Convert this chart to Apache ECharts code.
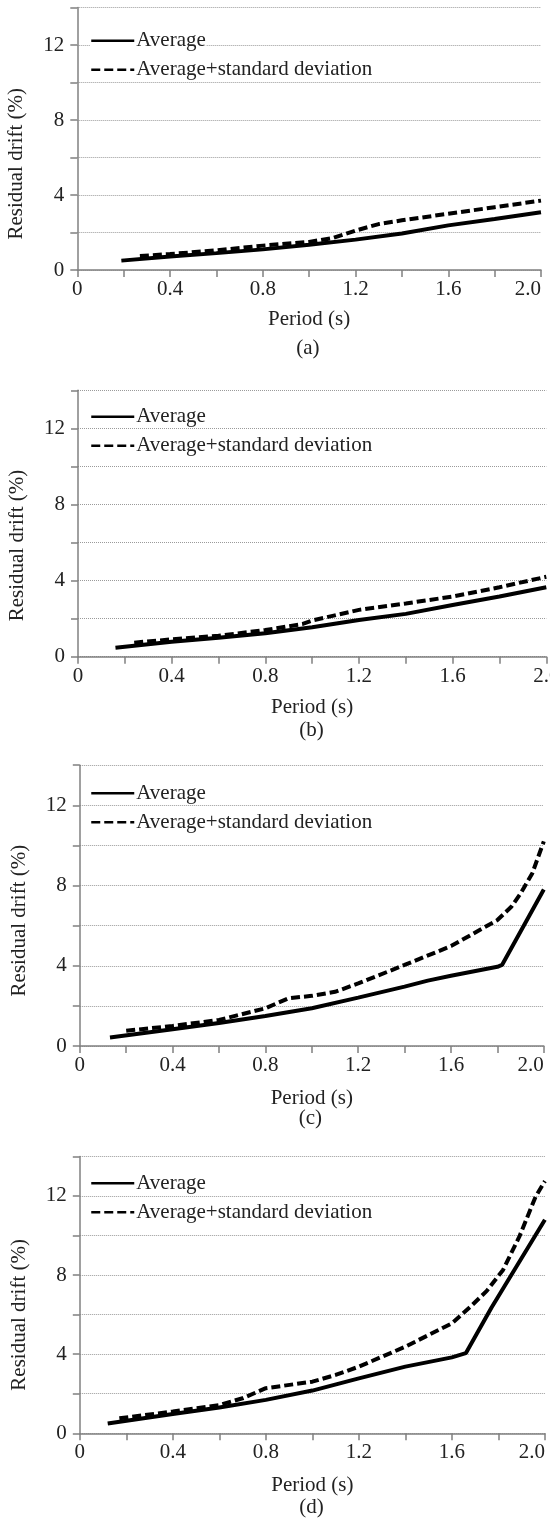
<!DOCTYPE html>
<html>
<head>
<meta charset="utf-8">
<script src="https://cdn.jsdelivr.net/npm/echarts@6/dist/echarts.min.js"></script>
<style>
html,body{margin:0;padding:0;background:#fff;}
#chart{width:550px;height:1519px;}
</style>
</head>
<body>
<div id="chart"></div>
<script>
// ---- Data (Period in s, Residual drift in %) ----
const panelLabels = ['(a)', '(b)', '(c)', '(d)'];
const seriesNames = ['Average', 'Average+standard deviation'];
const xAxisTitle = 'Period (s)';
const yAxisTitle = 'Residual drift (%)';
const xTickLabels = ['0', '0.4', '0.8', '1.2', '1.6', '2.0'];
const yTickLabels = ['0', '4', '8', '12'];

const avgA_x = [0.19, 0.4, 0.6, 0.8, 1.0, 1.2, 1.4, 1.6, 1.8, 2.0];
const avgA_y = [0.5, 0.72, 0.9, 1.1, 1.35, 1.62, 1.95, 2.38, 2.72, 3.08];
const sdA_x = [0.27, 0.4, 0.6, 0.8, 1.0, 1.1, 1.15, 1.2, 1.3, 1.4, 1.6, 1.8, 2.0];
const sdA_y = [0.75, 0.85, 1.05, 1.3, 1.5, 1.7, 1.9, 2.1, 2.45, 2.65, 3.0, 3.35, 3.7];

const avgB_x = [0.16, 0.4, 0.6, 0.8, 1.0, 1.2, 1.4, 1.6, 1.8, 2.0];
const avgB_y = [0.47, 0.79, 1.0, 1.23, 1.55, 1.93, 2.25, 2.72, 3.16, 3.65];
const sdB_x = [0.24, 0.4, 0.6, 0.8, 0.96, 1.0, 1.2, 1.4, 1.6, 1.8, 2.0];
const sdB_y = [0.74, 0.91, 1.1, 1.4, 1.72, 1.9, 2.46, 2.8, 3.16, 3.65, 4.2];

const avgC_x = [0.13, 0.4, 0.6, 0.8, 1.0, 1.2, 1.4, 1.5, 1.6, 1.8, 1.82, 2.0];
const avgC_y = [0.42, 0.83, 1.15, 1.5, 1.88, 2.41, 2.96, 3.26, 3.5, 3.95, 4.04, 7.8];
const sdC_x = [0.2, 0.4, 0.6, 0.8, 0.9, 1.0, 1.1, 1.2, 1.4, 1.6, 1.8, 1.86, 1.9, 1.95, 2.0];
const sdC_y = [0.76, 1.0, 1.3, 1.88, 2.38, 2.5, 2.7, 3.12, 4.04, 4.98, 6.28, 6.94, 7.6, 8.6, 10.2];

const avgD_x = [0.12, 0.4, 0.6, 0.8, 1.0, 1.2, 1.4, 1.6, 1.66, 1.77, 2.0];
const avgD_y = [0.5, 0.98, 1.3, 1.69, 2.16, 2.78, 3.37, 3.84, 4.05, 6.35, 10.8];
const sdD_x = [0.17, 0.4, 0.6, 0.7, 0.8, 1.0, 1.1, 1.2, 1.4, 1.6, 1.68, 1.75, 1.82, 1.89, 1.96, 2.0];
const sdD_y = [0.76, 1.1, 1.43, 1.77, 2.28, 2.61, 2.95, 3.37, 4.38, 5.56, 6.4, 7.2, 8.26, 9.94, 11.96, 12.75];

const avgXs = [avgA_x, avgB_x, avgC_x, avgD_x];
const avgYs = [avgA_y, avgB_y, avgC_y, avgD_y];
const sdXs = [sdA_x, sdB_x, sdC_x, sdD_x];
const sdYs = [sdA_y, sdB_y, sdC_y, sdD_y];

// ---- Layout ----
const grids = [
  {left: 77.3, top: 7.5, width: 463.7, height: 262.5},
  {left: 78, top: 390.3, width: 468.3, height: 266.4},
  {left: 79.8, top: 765.2, width: 464, height: 280.8},
  {left: 79.8, top: 1156.4, width: 465.1, height: 276.9}
];
const xNameGaps = [39, 40, 42, 42];
const yNameShift = [50, 44, 30, 40];
const maxLabelAlign = ['right', 'center', 'right', 'right'];
const captionY = [349, 731, 1119, 1508];
const legendTop = [30.2, 406.2, 782.8, 1172.8];
const legendRowStep = 29;

const FONT = '"Liberation Serif", "Times New Roman", serif';
const FS = 21;
const zip = (xs, ys) => xs.map((x, i) => [x, ys[i]]);

const option = {
  animation: false,
  backgroundColor: '#fff',
  textStyle: {fontFamily: FONT, color: '#222'},
  grid: [], xAxis: [], yAxis: [], series: [], legend: [], graphic: []
};

grids.forEach((g, i) => {
  option.grid.push(Object.assign({containLabel: false, outerBoundsMode: 'none'}, g));
  option.xAxis.push({
    type: 'value', gridIndex: i, min: 0, max: 2.0, interval: 0.2,
    name: xAxisTitle, nameLocation: 'middle', nameGap: xNameGaps[i],
    nameTextStyle: {fontFamily: FONT, fontSize: FS, color: '#222'},
    axisLine: {show: true, onZero: false, lineStyle: {color: '#808080', width: 1.5}},
    axisTick: {show: true, inside: false, length: 7, lineStyle: {color: '#808080', width: 1.5}},
    splitLine: {show: false},
    axisLabel: {
      fontFamily: FONT, fontSize: FS, color: '#222', margin: 9,
      showMinLabel: true, showMaxLabel: true, hideOverlap: false,
      alignMaxLabel: maxLabelAlign[i],
      formatter: v => {
        const k = Math.round(v * 10);
        if (k % 4 !== 0) return '';
        return xTickLabels[k / 4];
      }
    }
  });
  option.yAxis.push({
    type: 'value', gridIndex: i, min: 0, max: 14, interval: 2,
    name: yAxisTitle, nameLocation: 'middle', nameGap: 50, nameRotate: 90,
    nameTextStyle: {fontFamily: FONT, fontSize: FS, color: '#222', padding: [0, yNameShift[i], 0, 0]},
    axisLine: {show: true, onZero: false, lineStyle: {color: '#808080', width: 1.5}},
    axisTick: {show: true, inside: false, length: 7, lineStyle: {color: '#808080', width: 1.5}},
    splitLine: {show: true, lineStyle: {color: '#9a9a9a', width: 1, type: 'dotted'}},
    axisLabel: {
      fontFamily: FONT, fontSize: FS, color: '#222', margin: 13,
      formatter: v => (v % 4 === 0 ? yTickLabels[v / 4] : '')
    }
  });
  option.series.push({
    name: seriesNames[0], type: 'line', xAxisIndex: i, yAxisIndex: i,
    data: zip(avgXs[i], avgYs[i]), symbol: 'none', smooth: false,
    lineStyle: {color: '#000', width: 4, type: 'solid'}, itemStyle: {color: '#000'}, z: 3
  });
  option.series.push({
    name: seriesNames[1], type: 'line', xAxisIndex: i, yAxisIndex: i,
    data: zip(sdXs[i], sdYs[i]), symbol: 'none', smooth: false,
    lineStyle: {color: '#000', width: 4, type: [9, 4]}, itemStyle: {color: '#000'}, z: 4
  });
  seriesNames.forEach((nm, j) => {
    option.legend.push({
      data: [nm],
      orient: 'vertical', left: 90, top: legendTop[i] + j * legendRowStep,
      itemWidth: 43, itemHeight: 14, padding: 0,
      backgroundColor: '#fff', selectedMode: false,
      itemStyle: {opacity: 0, color: 'transparent', borderWidth: 0},
      lineStyle: {width: 2.5, opacity: 1},
      textStyle: {fontFamily: FONT, fontSize: FS, color: '#222', lineHeight: 21, padding: [0, 0, 0, -3]}
    });
  });
  option.graphic.push({
    type: 'text', left: g.left + g.width / 2 - 13, top: captionY[i] - 11.5,
    style: {text: panelLabels[i], font: FS + 'px "Liberation Serif"', fill: '#222'}
  });
});

const chart = echarts.init(document.getElementById('chart'), null, {renderer: 'canvas'});
chart.setOption(option);
</script>
</body>
</html>
